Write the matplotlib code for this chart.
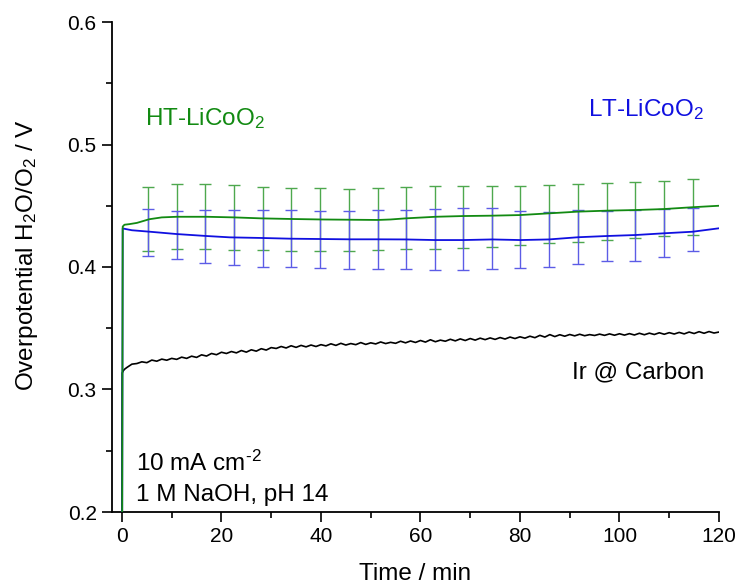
import numpy as np
import matplotlib
matplotlib.use("Agg")
import matplotlib.pyplot as plt
from matplotlib.ticker import MultipleLocator

plt.rcParams['font.family'] = ['Liberation Sans', 'DejaVu Sans']
plt.rcParams['mathtext.fontset'] = 'custom'
plt.rcParams['mathtext.rm'] = 'Liberation Sans'
plt.rcParams['mathtext.it'] = 'Liberation Sans:italic'
plt.rcParams['mathtext.bf'] = 'Liberation Sans:bold'

# ---------------- data ----------------
ht_t = [0.05, 0.15, 0.5, 1.5, 3, 5.5, 8, 11, 17, 22.5, 28, 34, 40, 45.6, 51.4, 54,
        57, 63, 68.6, 74.4, 80, 85.8, 91.7, 97.5, 103.2, 108.9, 114.7, 120]
ht_v = [0.20, 0.433, 0.4345, 0.435, 0.436, 0.439, 0.4405, 0.441, 0.441, 0.4405, 0.4397,
        0.4392, 0.4388, 0.4386, 0.4384, 0.4388, 0.4397, 0.441, 0.4416, 0.4419, 0.4424,
        0.4438, 0.4452, 0.446, 0.4465, 0.4473, 0.4488, 0.450]

lt_t = [0.05, 0.15, 0.5, 2, 5.6, 11, 17, 21.7, 28, 34, 45.6, 51.4, 57, 62.9, 68.6,
        74.4, 80.1, 85.8, 91.7, 97.5, 103.2, 108.9, 114.7, 120]
lt_v = [0.20, 0.4316, 0.4312, 0.430, 0.4288, 0.4269, 0.4253, 0.4242, 0.4237, 0.4231,
        0.4226, 0.4226, 0.4225, 0.422, 0.422, 0.4225, 0.422, 0.4225, 0.4243, 0.4253,
        0.4261, 0.4275, 0.4288, 0.4316]

bar_t = [5.2, 11.0, 16.7, 22.5, 28.3, 34.0, 39.8, 45.6, 51.4, 57.1, 62.9, 68.6, 74.4,
         80.1, 85.8, 91.7, 97.5, 103.2, 108.9, 114.7]
ht_lo = [0.4133, 0.4144, 0.4144, 0.4139, 0.4139, 0.4133, 0.4133, 0.4133, 0.4139, 0.4144,
         0.4147, 0.4152, 0.4160, 0.4180, 0.4193, 0.4207, 0.4220, 0.4234, 0.4253, 0.4261]
ht_hi = [0.4651, 0.4680, 0.4675, 0.4667, 0.4656, 0.4648, 0.4642, 0.4637, 0.4642, 0.4656,
         0.4660, 0.4665, 0.4665, 0.4665, 0.4670, 0.4675, 0.4682, 0.4696, 0.4705, 0.4718]
lt_lo = [0.4090, 0.4063, 0.4035, 0.4014, 0.4003, 0.3998, 0.3989, 0.3984, 0.3984, 0.3986,
         0.3978, 0.3973, 0.3984, 0.3995, 0.4003, 0.4022, 0.4046, 0.4052, 0.4079, 0.4128]
lt_hi = [0.4476, 0.4460, 0.4465, 0.4465, 0.4465, 0.4465, 0.4460, 0.4460, 0.4465, 0.4465,
         0.4471, 0.4479, 0.4479, 0.4460, 0.4449, 0.4465, 0.4460, 0.4465, 0.4471, 0.4479]

ir_t = [0.0, 0.05, 0.3, 0.6] + list(range(1, 121))
ir_v = [0.15, 0.3135, 0.3155, 0.3168,
        0.3180, 0.3207, 0.3212, 0.3226, 0.3219, 0.3240, 0.3231, 0.3248, 0.3239, 0.3254,
        0.3246, 0.3264, 0.3254, 0.3272, 0.3262, 0.3283, 0.3273, 0.3294, 0.3284, 0.3304,
        0.3294, 0.3310, 0.3299, 0.3318, 0.3305, 0.3324, 0.3313, 0.3333, 0.3322, 0.3342,
        0.3335, 0.3351, 0.3339, 0.3357, 0.3344, 0.3360, 0.3348, 0.3363, 0.3351, 0.3366,
        0.3356, 0.3373, 0.3360, 0.3377, 0.3363, 0.3375, 0.3366, 0.3383, 0.3368, 0.3381,
        0.3372, 0.3388, 0.3375, 0.3385, 0.3377, 0.3394, 0.3381, 0.3396, 0.3384, 0.3400,
        0.3387, 0.3406, 0.3390, 0.3403, 0.3394, 0.3410, 0.3397, 0.3413, 0.3400, 0.3416,
        0.3403, 0.3419, 0.3407, 0.3421, 0.3409, 0.3424, 0.3412, 0.3428, 0.3416, 0.3430,
        0.3419, 0.3435, 0.3423, 0.3442, 0.3428, 0.3448, 0.3432, 0.3447, 0.3435, 0.3449,
        0.3438, 0.3451, 0.3439, 0.3448, 0.3441, 0.3452, 0.3442, 0.3454, 0.3443, 0.3455,
        0.3444, 0.3456, 0.3445, 0.3459, 0.3447, 0.3460, 0.3449, 0.3463, 0.3451, 0.3464,
        0.3453, 0.3466, 0.3454, 0.3469, 0.3457, 0.3472, 0.3459, 0.3473, 0.3461, 0.3469]

GREEN = '#128a12'
BLUE = '#1010e0'
GREEN_BAR = '#4ea84e'
BLUE_BAR = '#5c5ce6'

# ---------------- figure ----------------
fig = plt.figure(figsize=(7.36, 5.85), dpi=100)
ax = fig.add_axes([112 / 736, 1 - 512 / 585, 607 / 736, 490 / 585])

def center_err(lo, hi):
    lo = np.asarray(lo); hi = np.asarray(hi)
    return (lo + hi) / 2, (hi - lo) / 2

ht_c, ht_e = center_err(ht_lo, ht_hi)
lt_c, lt_e = center_err(lt_lo, lt_hi)

ax.errorbar(bar_t, ht_c, yerr=ht_e, fmt='none', ecolor=GREEN_BAR, elinewidth=1.0,
            capsize=4.5, capthick=1.0, zorder=1)
ax.errorbar(bar_t, lt_c, yerr=lt_e, fmt='none', ecolor=BLUE_BAR, elinewidth=1.0,
            capsize=4.5, capthick=1.0, zorder=1)

ax.plot(ir_t, ir_v, color='black', lw=1.2, zorder=2)
ax.plot(lt_t, lt_v, color=BLUE, lw=1.3, zorder=3)
ax.plot(ht_t, ht_v, color=GREEN, lw=1.3, zorder=3)

ax.set_xlim(-2, 120)
ax.set_ylim(0.2, 0.6)
ax.xaxis.set_major_locator(MultipleLocator(20))
ax.xaxis.set_minor_locator(MultipleLocator(10))
ax.yaxis.set_major_locator(MultipleLocator(0.1))
ax.yaxis.set_minor_locator(MultipleLocator(0.05))
ax.yaxis.set_major_formatter(matplotlib.ticker.FormatStrFormatter('%.1f'))

for s in ['top', 'right']:
    ax.spines[s].set_visible(False)
for s in ['left', 'bottom']:
    ax.spines[s].set_linewidth(1.3)

ax.tick_params(which='major', direction='out', length=7, width=1.2, labelsize=15, pad=4)
ax.tick_params(which='minor', direction='out', length=4, width=1.2)

ax.set_xlabel('Time / min', fontsize=17.5)
ax.xaxis.label.set_va('baseline')
ax.xaxis.set_label_coords(0.5, (512 - 579.5) / 490)

ax.set_ylabel('Overpotential H$_2$O/O$_2$ / V', fontsize=17.5)
ax.yaxis.label.set_va('baseline')
ax.yaxis.set_label_coords((33 - 112) / 607, (512 - 255) / 490)

ax.text(4.6, 0.5159, 'HT-LiCoO$_2$', color=GREEN, fontsize=17.5, va='baseline', ha='left')
ax.text(93.7, 0.5233, 'LT-LiCoO$_2$', color=BLUE, fontsize=17.5, va='baseline', ha='left')
ax.text(90.4, 0.3091, 'Ir @ Carbon', color='black', fontsize=17.5, va='baseline', ha='left')
ax.text(2.8, 0.2337, r'10 mA cm$^{\text{-2}}$', color='black', fontsize=17.5,
        va='baseline', ha='left')
ax.text(2.8, 0.2092, '1 M NaOH, pH 14', color='black', fontsize=17.5, va='baseline', ha='left')

fig.savefig('out.png', dpi=100)
